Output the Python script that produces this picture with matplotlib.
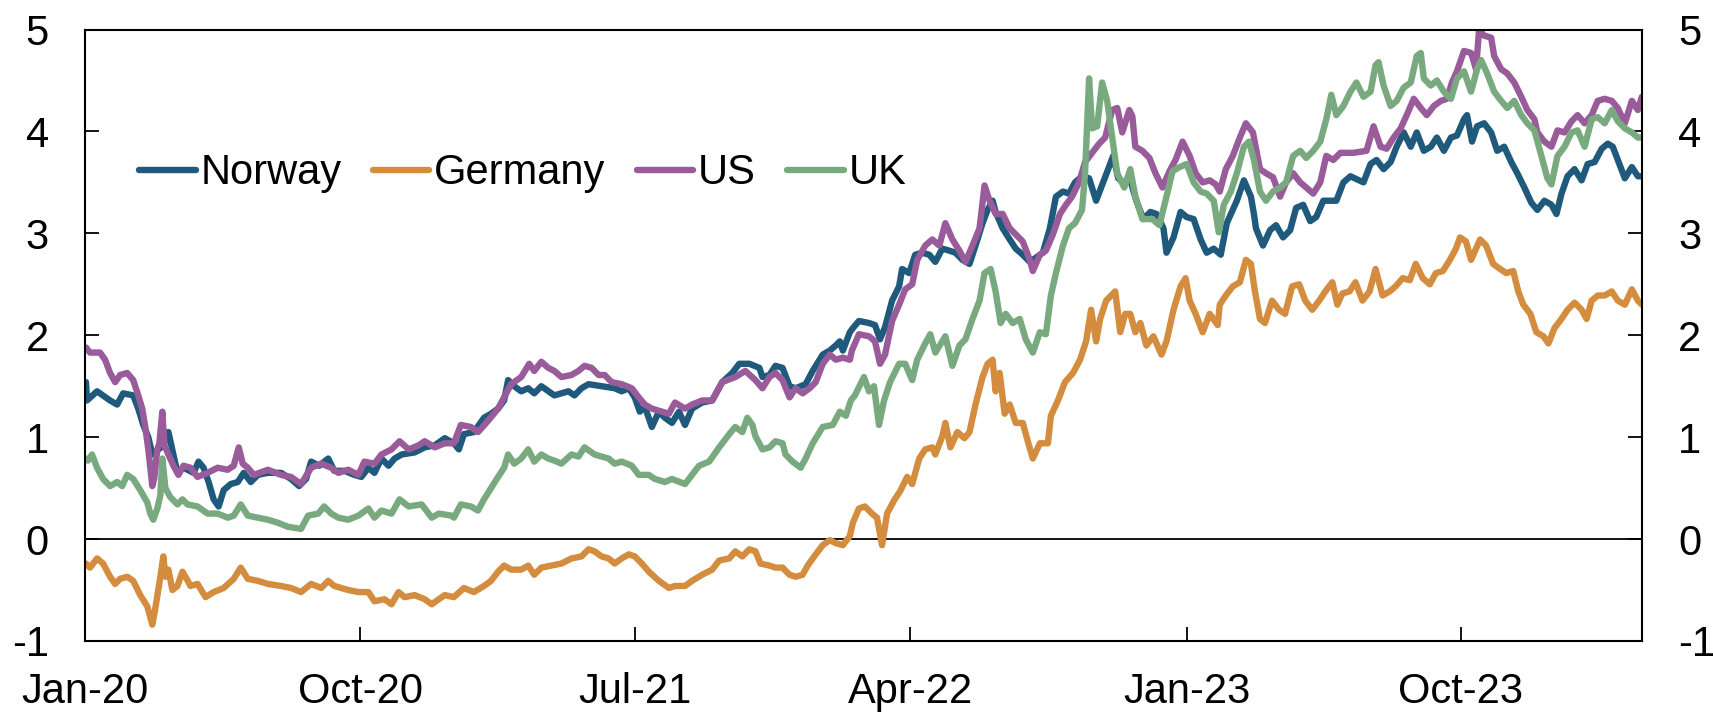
import pandas as pd
import matplotlib
matplotlib.use("Agg")
import matplotlib.pyplot as plt
import matplotlib.dates as mdates

plt.rcParams["font.family"] = ["Liberation Sans", "DejaVu Sans"]
plt.rcParams["axes.unicode_minus"] = False

# ---- Data ----
norway_dates = [
    "2020-01-02", "2020-01-03", "2020-01-13", "2020-01-26", "2020-02-02", "2020-02-08", "2020-02-18",
    "2020-02-23", "2020-02-28", "2020-03-04", "2020-03-08", "2020-03-13", "2020-03-19", "2020-03-24",
    "2020-03-28", "2020-04-02", "2020-04-08", "2020-04-18", "2020-04-23", "2020-04-28", "2020-05-03",
    "2020-05-08", "2020-05-13", "2020-05-18", "2020-05-25", "2020-06-01", "2020-06-07", "2020-06-14",
    "2020-06-21", "2020-07-01", "2020-07-14", "2020-07-24", "2020-08-01", "2020-08-08", "2020-08-13",
    "2020-08-21", "2020-08-30", "2020-09-05", "2020-09-15", "2020-09-25", "2020-10-02", "2020-10-09",
    "2020-10-15", "2020-10-22", "2020-10-29", "2020-11-04", "2020-11-11", "2020-11-24", "2020-12-04",
    "2020-12-14", "2020-12-24",
    "2021-01-02", "2021-01-07", "2021-01-12", "2021-01-22", "2021-02-01", "2021-02-08", "2021-02-15",
    "2021-02-21", "2021-02-25", "2021-03-03", "2021-03-10", "2021-03-17", "2021-03-23", "2021-03-30",
    "2021-04-12", "2021-04-26", "2021-05-02", "2021-05-09", "2021-05-16", "2021-05-29", "2021-06-11",
    "2021-06-18", "2021-06-25", "2021-07-01", "2021-07-06", "2021-07-11", "2021-07-18", "2021-07-25",
    "2021-07-31", "2021-08-07", "2021-08-14", "2021-08-20", "2021-08-27", "2021-09-06", "2021-09-16",
    "2021-09-26", "2021-10-06", "2021-10-13", "2021-10-23", "2021-11-02", "2021-11-05", "2021-11-12",
    "2021-11-18", "2021-11-25", "2021-12-02", "2021-12-08", "2021-12-18", "2021-12-25",
    "2022-01-04", "2022-01-11", "2022-01-17", "2022-01-21", "2022-01-24", "2022-01-31", "2022-02-03",
    "2022-02-09", "2022-02-19", "2022-02-25", "2022-03-02", "2022-03-07", "2022-03-14", "2022-03-21",
    "2022-03-24", "2022-03-31", "2022-04-06", "2022-04-13", "2022-04-20", "2022-04-26", "2022-05-03",
    "2022-05-10", "2022-05-16", "2022-05-23", "2022-05-30", "2022-06-05", "2022-06-12", "2022-06-17",
    "2022-06-22", "2022-06-25", "2022-07-02", "2022-07-09", "2022-07-15", "2022-07-22", "2022-07-29",
    "2022-08-04", "2022-08-11", "2022-08-18", "2022-08-24", "2022-08-31", "2022-09-06", "2022-09-12",
    "2022-09-19", "2022-09-26", "2022-10-03", "2022-10-10", "2022-10-17", "2022-10-20", "2022-10-25",
    "2022-10-30", "2022-11-06", "2022-11-12", "2022-11-19", "2022-11-26", "2022-12-02", "2022-12-09",
    "2022-12-12", "2022-12-19", "2022-12-26",
    "2023-01-01", "2023-01-08", "2023-01-15", "2023-01-21", "2023-01-28", "2023-02-04", "2023-02-10",
    "2023-02-20", "2023-02-27", "2023-03-06", "2023-03-09", "2023-03-11", "2023-03-18", "2023-03-25",
    "2023-03-31", "2023-04-07", "2023-04-14", "2023-04-20", "2023-04-27", "2023-05-04", "2023-05-10",
    "2023-05-17", "2023-05-30", "2023-06-06", "2023-06-13", "2023-06-26", "2023-07-03", "2023-07-09",
    "2023-07-16", "2023-07-23", "2023-07-29", "2023-08-05", "2023-08-12", "2023-08-18", "2023-08-25",
    "2023-09-01", "2023-09-07", "2023-09-14", "2023-09-21", "2023-09-27", "2023-10-04", "2023-10-07",
    "2023-10-12", "2023-10-17", "2023-10-24", "2023-10-31", "2023-11-06", "2023-11-13", "2023-11-20",
    "2023-11-26", "2023-12-03", "2023-12-10", "2023-12-16", "2023-12-23", "2023-12-30",
    "2024-01-04", "2024-01-09", "2024-01-15", "2024-01-22", "2024-01-29", "2024-02-04", "2024-02-11",
    "2024-02-18", "2024-02-24", "2024-02-29", "2024-03-05", "2024-03-12", "2024-03-19", "2024-03-25",
    "2024-03-29",
]
norway = [
    1.54, 1.36, 1.45, 1.36, 1.32, 1.43, 1.41,
    1.28, 1.12, 1.00, 0.83, 0.87, 0.92, 1.05,
    0.87, 0.65, 0.70, 0.65, 0.76, 0.70, 0.56,
    0.39, 0.32, 0.48, 0.54, 0.56, 0.65, 0.56,
    0.63, 0.65, 0.65, 0.59, 0.52, 0.59, 0.76,
    0.72, 0.79, 0.67, 0.67, 0.63, 0.61, 0.70,
    0.65, 0.79, 0.72, 0.79, 0.83, 0.85, 0.90,
    0.92, 0.99,
    0.94, 0.88, 1.03, 1.05, 1.19, 1.23, 1.28,
    1.36, 1.56, 1.50, 1.45, 1.48, 1.43, 1.50,
    1.41, 1.45, 1.41, 1.48, 1.52, 1.50, 1.48,
    1.45, 1.48, 1.39, 1.25, 1.30, 1.10, 1.25,
    1.19, 1.14, 1.25, 1.12, 1.28, 1.34, 1.36,
    1.54, 1.63, 1.72, 1.72, 1.68, 1.59, 1.61,
    1.70, 1.68, 1.50, 1.48, 1.52, 1.65,
    1.81, 1.85, 1.90, 1.94, 1.85, 2.03, 2.07,
    2.14, 2.12, 2.10, 1.96, 2.08, 2.34, 2.48,
    2.65, 2.61, 2.79, 2.81, 2.79, 2.72, 2.85,
    2.83, 2.81, 2.74, 2.70, 2.88, 3.10, 3.23,
    3.32, 3.21, 3.05, 2.94, 2.85, 2.79, 2.72,
    2.76, 2.81, 3.05, 3.36, 3.41, 3.39, 3.50,
    3.56, 3.54, 3.32, 3.50, 3.68, 3.76, 3.54,
    3.50, 3.52, 3.32, 3.14, 3.21, 3.19, 3.05,
    2.81, 2.96, 3.21,
    3.16, 3.14, 2.94, 2.81, 2.85, 2.79, 3.10,
    3.32, 3.52, 3.36, 3.19, 3.05, 2.88, 3.03,
    3.08, 2.96, 3.03, 3.25, 3.28, 3.12, 3.16,
    3.32, 3.32, 3.50, 3.56, 3.50, 3.68, 3.72,
    3.63, 3.70, 3.85, 3.99, 3.85, 3.99, 3.81,
    3.85, 3.94, 3.81, 3.94, 3.96, 4.12, 4.16,
    3.90, 4.05, 4.08, 3.99, 3.81, 3.85, 3.70,
    3.59, 3.45, 3.30, 3.23, 3.32, 3.28,
    3.19, 3.39, 3.56, 3.63, 3.52, 3.68, 3.70,
    3.83, 3.88, 3.85, 3.72, 3.54, 3.65, 3.56,
    3.56,
]

germany_dates = [
    "2020-01-02", "2020-01-06", "2020-01-13", "2020-01-19", "2020-01-26", "2020-01-31", "2020-02-05",
    "2020-02-12", "2020-02-18", "2020-02-25", "2020-03-03", "2020-03-08", "2020-03-11", "2020-03-16",
    "2020-03-19", "2020-03-21", "2020-03-24", "2020-03-28", "2020-04-02", "2020-04-07", "2020-04-10",
    "2020-04-15", "2020-04-22", "2020-04-30", "2020-05-08", "2020-05-18", "2020-05-28", "2020-06-04",
    "2020-06-11", "2020-06-21", "2020-07-01", "2020-07-14", "2020-07-24", "2020-08-03", "2020-08-13",
    "2020-08-23", "2020-08-30", "2020-09-05", "2020-09-19", "2020-09-29", "2020-10-09", "2020-10-15",
    "2020-10-25", "2020-11-01", "2020-11-08", "2020-11-14", "2020-11-24", "2020-12-04", "2020-12-11",
    "2020-12-18", "2020-12-24",
    "2021-01-02", "2021-01-12", "2021-01-22", "2021-02-01", "2021-02-08", "2021-02-15", "2021-02-21",
    "2021-02-28", "2021-03-10", "2021-03-17", "2021-03-23", "2021-03-30", "2021-04-09", "2021-04-19",
    "2021-04-29", "2021-05-09", "2021-05-16", "2021-05-22", "2021-05-29", "2021-06-05", "2021-06-11",
    "2021-06-18", "2021-06-25", "2021-07-01", "2021-07-08", "2021-07-15", "2021-07-25", "2021-08-04",
    "2021-08-10", "2021-08-20", "2021-08-27", "2021-09-06", "2021-09-16", "2021-09-23", "2021-10-03",
    "2021-10-09", "2021-10-16", "2021-10-23", "2021-10-29", "2021-11-03", "2021-11-12", "2021-11-18",
    "2021-11-25", "2021-12-02", "2021-12-08", "2021-12-15", "2021-12-20", "2021-12-28",
    "2022-01-04", "2022-01-11", "2022-01-17", "2022-01-24", "2022-01-31", "2022-02-03", "2022-02-09",
    "2022-02-15", "2022-02-22", "2022-02-27", "2022-03-04", "2022-03-09", "2022-03-16", "2022-03-22",
    "2022-03-29", "2022-04-03", "2022-04-10", "2022-04-16", "2022-04-23", "2022-04-26", "2022-05-03",
    "2022-05-06", "2022-05-11", "2022-05-18", "2022-05-25", "2022-05-30", "2022-06-05", "2022-06-12",
    "2022-06-17", "2022-06-22", "2022-06-25", "2022-06-29", "2022-07-04", "2022-07-09", "2022-07-15",
    "2022-07-22", "2022-07-27", "2022-08-01", "2022-08-08", "2022-08-16", "2022-08-19", "2022-08-26",
    "2022-09-02", "2022-09-10", "2022-09-17", "2022-09-23", "2022-09-28", "2022-10-03", "2022-10-07",
    "2022-10-13", "2022-10-22", "2022-10-27", "2022-11-01", "2022-11-06", "2022-11-11", "2022-11-16",
    "2022-11-22", "2022-11-29", "2022-12-07", "2022-12-12", "2022-12-19", "2022-12-26", "2022-12-31",
    "2023-01-04", "2023-01-10", "2023-01-17", "2023-01-24", "2023-02-01", "2023-02-03", "2023-02-09",
    "2023-02-16", "2023-02-23", "2023-03-01", "2023-03-06", "2023-03-10", "2023-03-15", "2023-03-20",
    "2023-03-27", "2023-04-03", "2023-04-09", "2023-04-16", "2023-04-23", "2023-04-29", "2023-05-06",
    "2023-05-13", "2023-05-19", "2023-05-26", "2023-05-31", "2023-06-05", "2023-06-12", "2023-06-18",
    "2023-06-25", "2023-07-02", "2023-07-08", "2023-07-15", "2023-07-22", "2023-07-28", "2023-08-04",
    "2023-08-11", "2023-08-17", "2023-08-24", "2023-08-31", "2023-09-06", "2023-09-13", "2023-09-20",
    "2023-09-26", "2023-09-30", "2023-10-06", "2023-10-11", "2023-10-16", "2023-10-20", "2023-10-26",
    "2023-11-02", "2023-11-09", "2023-11-15", "2023-11-22", "2023-11-27", "2023-12-02", "2023-12-09",
    "2023-12-15", "2023-12-22", "2023-12-27",
    "2024-01-02", "2024-01-09", "2024-01-15", "2024-01-22", "2024-01-29", "2024-02-03", "2024-02-08",
    "2024-02-14", "2024-02-21", "2024-02-28", "2024-03-05", "2024-03-12", "2024-03-19", "2024-03-25",
    "2024-03-29",
]
germany = [
    -0.24, -0.28, -0.19, -0.24, -0.37, -0.44, -0.39,
    -0.37, -0.41, -0.55, -0.66, -0.84, -0.68, -0.37,
    -0.17, -0.37, -0.30, -0.50, -0.46, -0.32, -0.37,
    -0.46, -0.44, -0.57, -0.52, -0.48, -0.39, -0.28,
    -0.39, -0.41, -0.44, -0.46, -0.48, -0.52, -0.44,
    -0.48, -0.41, -0.46, -0.50, -0.52, -0.52, -0.61,
    -0.59, -0.64, -0.52, -0.57, -0.55, -0.59, -0.64,
    -0.59, -0.55,
    -0.57, -0.48, -0.52, -0.46, -0.41, -0.32, -0.26,
    -0.30, -0.30, -0.26, -0.35, -0.28, -0.26, -0.24,
    -0.19, -0.17, -0.10, -0.12, -0.17, -0.19, -0.24,
    -0.19, -0.15, -0.17, -0.24, -0.32, -0.41, -0.48,
    -0.46, -0.46, -0.41, -0.35, -0.30, -0.21, -0.19,
    -0.12, -0.17, -0.10, -0.12, -0.24, -0.26, -0.28,
    -0.28, -0.35, -0.37, -0.35, -0.26, -0.15,
    -0.06, -0.01, -0.04, -0.06, 0.03, 0.16, 0.30,
    0.32, 0.25, 0.21, -0.06, 0.25, 0.38, 0.47,
    0.61, 0.54, 0.79, 0.88, 0.90, 0.83, 1.01,
    1.14, 0.90, 1.05, 0.99, 1.05, 1.32, 1.59,
    1.72, 1.76, 1.45, 1.63, 1.23, 1.32, 1.14,
    1.14, 0.96, 0.79, 0.94, 0.94, 1.21, 1.36,
    1.54, 1.63, 1.76, 1.94, 2.25, 1.94, 2.16,
    2.34, 2.43, 2.03, 2.21, 2.21, 2.03, 2.12,
    1.90, 1.99, 1.81, 1.94, 2.25, 2.48, 2.56,
    2.34, 2.21, 2.03, 2.21, 2.10, 2.30, 2.39,
    2.48, 2.52, 2.74, 2.70, 2.43, 2.16, 2.12,
    2.34, 2.25, 2.21, 2.48, 2.50, 2.34, 2.25,
    2.34, 2.43, 2.52, 2.30, 2.41, 2.43, 2.52,
    2.34, 2.43, 2.65, 2.39, 2.43, 2.48, 2.56,
    2.54, 2.70, 2.56, 2.50, 2.61, 2.63, 2.74,
    2.85, 2.96, 2.92, 2.74, 2.85, 2.94, 2.88,
    2.70, 2.65, 2.61, 2.63, 2.43, 2.30, 2.21,
    2.03, 1.99, 1.92,
    2.07, 2.16, 2.25, 2.32, 2.25, 2.16, 2.34,
    2.39, 2.39, 2.43, 2.34, 2.30, 2.45, 2.34,
    2.30,
]

us_dates = [
    "2020-01-02", "2020-01-06", "2020-01-16", "2020-01-21", "2020-01-26", "2020-01-31", "2020-02-05",
    "2020-02-12", "2020-02-18", "2020-02-23", "2020-02-27", "2020-03-01", "2020-03-04", "2020-03-08",
    "2020-03-10", "2020-03-13", "2020-03-15", "2020-03-18", "2020-03-20", "2020-03-24", "2020-03-29",
    "2020-04-03", "2020-04-08", "2020-04-15", "2020-04-22", "2020-05-02", "2020-05-12", "2020-05-22",
    "2020-05-28", "2020-06-02", "2020-06-06", "2020-06-11", "2020-06-17", "2020-07-01", "2020-07-14",
    "2020-07-24", "2020-08-03", "2020-08-13", "2020-08-23", "2020-09-02", "2020-09-09", "2020-09-19",
    "2020-09-29", "2020-10-05", "2020-10-15", "2020-10-22", "2020-11-01", "2020-11-09", "2020-11-18",
    "2020-11-28", "2020-12-04", "2020-12-14", "2020-12-24",
    "2021-01-02", "2021-01-09", "2021-01-19", "2021-01-26", "2021-02-05", "2021-02-15", "2021-02-21",
    "2021-02-28", "2021-03-10", "2021-03-18", "2021-03-23", "2021-03-30", "2021-04-06", "2021-04-12",
    "2021-04-19", "2021-04-29", "2021-05-06", "2021-05-12", "2021-05-19", "2021-05-26", "2021-06-01",
    "2021-06-08", "2021-06-18", "2021-06-28", "2021-07-05", "2021-07-11", "2021-07-18", "2021-07-28",
    "2021-08-04", "2021-08-10", "2021-08-20", "2021-08-27", "2021-09-06", "2021-09-16", "2021-09-26",
    "2021-10-09", "2021-10-19", "2021-10-29", "2021-11-05", "2021-11-12", "2021-11-18", "2021-11-25",
    "2021-12-02", "2021-12-08", "2021-12-15", "2021-12-22", "2021-12-28",
    "2022-01-04", "2022-01-11", "2022-01-17", "2022-01-24", "2022-01-31", "2022-02-02", "2022-02-09",
    "2022-02-19", "2022-02-25", "2022-03-02", "2022-03-07", "2022-03-14", "2022-03-21", "2022-03-27",
    "2022-04-03", "2022-04-08", "2022-04-16", "2022-04-23", "2022-04-30", "2022-05-06", "2022-05-13",
    "2022-05-20", "2022-05-26", "2022-06-02", "2022-06-09", "2022-06-14", "2022-06-19", "2022-06-25",
    "2022-07-02", "2022-07-09", "2022-07-15", "2022-07-22", "2022-07-29", "2022-08-01", "2022-08-08",
    "2022-08-14", "2022-08-21", "2022-08-28", "2022-09-03", "2022-09-09", "2022-09-16", "2022-09-22",
    "2022-09-29", "2022-10-06", "2022-10-12", "2022-10-19", "2022-10-24", "2022-10-29", "2022-11-05",
    "2022-11-08", "2022-11-11", "2022-11-18", "2022-11-25", "2022-12-01", "2022-12-08", "2022-12-15",
    "2022-12-21", "2022-12-28",
    "2023-01-04", "2023-01-10", "2023-01-17", "2023-01-24", "2023-01-30", "2023-02-03", "2023-02-09",
    "2023-02-16", "2023-02-23", "2023-03-01", "2023-03-08", "2023-03-15", "2023-03-21", "2023-03-28",
    "2023-04-04", "2023-04-10", "2023-04-17", "2023-04-24", "2023-04-30", "2023-05-07", "2023-05-14",
    "2023-05-20", "2023-05-27", "2023-06-03", "2023-06-16", "2023-06-29", "2023-07-06", "2023-07-13",
    "2023-07-19", "2023-07-26", "2023-08-02", "2023-08-08", "2023-08-15", "2023-08-22", "2023-08-28",
    "2023-09-04", "2023-09-11", "2023-09-17", "2023-09-22", "2023-09-27", "2023-10-04", "2023-10-11",
    "2023-10-16", "2023-10-19", "2023-10-24", "2023-10-31", "2023-11-03", "2023-11-10", "2023-11-16",
    "2023-11-23", "2023-11-30", "2023-12-06", "2023-12-13", "2023-12-16", "2023-12-23", "2023-12-30",
    "2024-01-05", "2024-01-12", "2024-01-19", "2024-01-25", "2024-02-01", "2024-02-08", "2024-02-14",
    "2024-02-21", "2024-02-28", "2024-03-05", "2024-03-12", "2024-03-19", "2024-03-25", "2024-03-29",
]
us = [
    1.88, 1.83, 1.83, 1.76, 1.63, 1.54, 1.61,
    1.63, 1.56, 1.41, 1.28, 1.10, 0.88, 0.52,
    0.60, 0.88, 0.94, 1.25, 0.92, 0.83, 0.72,
    0.63, 0.72, 0.70, 0.61, 0.65, 0.70, 0.68,
    0.72, 0.90, 0.74, 0.70, 0.63, 0.68, 0.63,
    0.61, 0.54, 0.70, 0.74, 0.70, 0.65, 0.68,
    0.63, 0.76, 0.74, 0.83, 0.88, 0.96, 0.88,
    0.92, 0.96, 0.90, 0.94,
    0.94, 1.12, 1.10, 1.05, 1.16, 1.28, 1.39,
    1.52, 1.59, 1.72, 1.65, 1.74, 1.68, 1.65,
    1.59, 1.61, 1.65, 1.70, 1.68, 1.61, 1.61,
    1.54, 1.52, 1.48, 1.39, 1.32, 1.28, 1.25,
    1.23, 1.34, 1.28, 1.32, 1.36, 1.36, 1.54,
    1.59, 1.65, 1.56, 1.48, 1.59, 1.63, 1.56,
    1.39, 1.48, 1.43, 1.48, 1.54,
    1.72, 1.81, 1.76, 1.78, 1.76, 1.85, 2.01,
    1.99, 1.94, 1.72, 1.81, 2.14, 2.30, 2.45,
    2.50, 2.74, 2.88, 2.94, 2.88, 3.10, 2.94,
    2.83, 2.72, 2.88, 3.05, 3.47, 3.32, 3.19,
    3.19, 3.05, 2.99, 2.92, 2.74, 2.63, 2.79,
    2.83, 2.99, 3.19, 3.28, 3.36, 3.50, 3.70,
    3.79, 3.88, 3.94, 4.21, 4.23, 3.99, 4.21,
    4.15, 3.85, 3.81, 3.74, 3.59, 3.45, 3.61,
    3.72, 3.90,
    3.76, 3.59, 3.50, 3.52, 3.48, 3.41, 3.63,
    3.76, 3.94, 4.08, 3.99, 3.63, 3.59, 3.55,
    3.36, 3.50, 3.59, 3.50, 3.45, 3.39, 3.50,
    3.76, 3.72, 3.79, 3.79, 3.81, 4.05, 3.85,
    3.83, 3.94, 4.03, 4.16, 4.32, 4.23, 4.16,
    4.25, 4.30, 4.32, 4.48, 4.59, 4.79, 4.77,
    4.61, 5.00, 4.94, 4.92, 4.74, 4.61, 4.57,
    4.48, 4.34, 4.21, 4.12, 3.99, 3.90, 3.85,
    4.01, 3.99, 4.10, 4.16, 4.08, 4.16, 4.30,
    4.32, 4.30, 4.23, 4.08, 4.30, 4.21, 4.34,
]

uk_dates = [
    "2020-01-02", "2020-01-04", "2020-01-08", "2020-01-13", "2020-01-19", "2020-01-26", "2020-02-02",
    "2020-02-07", "2020-02-12", "2020-02-18", "2020-02-25", "2020-03-03", "2020-03-06", "2020-03-09",
    "2020-03-13", "2020-03-16", "2020-03-18", "2020-03-21", "2020-03-26", "2020-04-02", "2020-04-07",
    "2020-04-12", "2020-04-22", "2020-05-02", "2020-05-12", "2020-05-22", "2020-05-28", "2020-06-04",
    "2020-06-11", "2020-06-21", "2020-07-01", "2020-07-11", "2020-07-21", "2020-08-03", "2020-08-10",
    "2020-08-20", "2020-08-26", "2020-09-02", "2020-09-09", "2020-09-19", "2020-09-29", "2020-10-09",
    "2020-10-15", "2020-10-22", "2020-11-01", "2020-11-09", "2020-11-18", "2020-12-01", "2020-12-11",
    "2020-12-18", "2020-12-31",
    "2021-01-02", "2021-01-09", "2021-01-19", "2021-01-26", "2021-02-01", "2021-02-08", "2021-02-15",
    "2021-02-21", "2021-02-25", "2021-03-03", "2021-03-10", "2021-03-17", "2021-03-23", "2021-03-30",
    "2021-04-06", "2021-04-12", "2021-04-19", "2021-04-29", "2021-05-06", "2021-05-12", "2021-05-22",
    "2021-05-29", "2021-06-05", "2021-06-11", "2021-06-18", "2021-06-28", "2021-07-05", "2021-07-15",
    "2021-07-21", "2021-07-31", "2021-08-07", "2021-08-20", "2021-08-27", "2021-09-03", "2021-09-13",
    "2021-09-23", "2021-10-03", "2021-10-09", "2021-10-16", "2021-10-21", "2021-10-26", "2021-10-29",
    "2021-11-05", "2021-11-12", "2021-11-18", "2021-11-25", "2021-11-28", "2021-12-05", "2021-12-13",
    "2021-12-18", "2021-12-25",
    "2022-01-04", "2022-01-14", "2022-01-21", "2022-01-27", "2022-02-01", "2022-02-05", "2022-02-14",
    "2022-02-19", "2022-02-24", "2022-03-01", "2022-03-06", "2022-03-12", "2022-03-21", "2022-03-27",
    "2022-04-03", "2022-04-08", "2022-04-16", "2022-04-21", "2022-04-26", "2022-05-06", "2022-05-13",
    "2022-05-20", "2022-05-26", "2022-06-02", "2022-06-09", "2022-06-14", "2022-06-20", "2022-06-25",
    "2022-06-30", "2022-07-05", "2022-07-12", "2022-07-19", "2022-07-25", "2022-08-01", "2022-08-08",
    "2022-08-14", "2022-08-19", "2022-08-24", "2022-08-31", "2022-09-06", "2022-09-12", "2022-09-19",
    "2022-09-22", "2022-09-26", "2022-09-29", "2022-10-04", "2022-10-09", "2022-10-14", "2022-10-19",
    "2022-10-24", "2022-10-31", "2022-11-06", "2022-11-11", "2022-11-18", "2022-11-28", "2022-12-05",
    "2022-12-11", "2022-12-18", "2022-12-25",
    "2023-01-01", "2023-01-08", "2023-01-15", "2023-01-21", "2023-01-28", "2023-02-02", "2023-02-07",
    "2023-02-14", "2023-02-20", "2023-02-27", "2023-03-04", "2023-03-09", "2023-03-15", "2023-03-21",
    "2023-03-28", "2023-04-04", "2023-04-10", "2023-04-17", "2023-04-24", "2023-04-30", "2023-05-07",
    "2023-05-14", "2023-05-20", "2023-05-25", "2023-05-30", "2023-06-06", "2023-06-13", "2023-06-19",
    "2023-06-26", "2023-07-03", "2023-07-08", "2023-07-11", "2023-07-16", "2023-07-23", "2023-07-29",
    "2023-08-05", "2023-08-12", "2023-08-18", "2023-08-22", "2023-08-25", "2023-09-01", "2023-09-07",
    "2023-09-14", "2023-09-21", "2023-09-27", "2023-10-04", "2023-10-11", "2023-10-17", "2023-10-21",
    "2023-10-27", "2023-11-03", "2023-11-10", "2023-11-16", "2023-11-23", "2023-11-30", "2023-12-06",
    "2023-12-13", "2023-12-20", "2023-12-26", "2023-12-30",
    "2024-01-05", "2024-01-12", "2024-01-19", "2024-01-25", "2024-02-01", "2024-02-08", "2024-02-14",
    "2024-02-21", "2024-02-28", "2024-03-05", "2024-03-12", "2024-03-19", "2024-03-25", "2024-03-29",
]
uk = [
    0.79, 0.77, 0.83, 0.70, 0.59, 0.52, 0.56,
    0.52, 0.63, 0.59, 0.48, 0.36, 0.25, 0.19,
    0.30, 0.43, 0.79, 0.50, 0.41, 0.34, 0.39,
    0.34, 0.32, 0.25, 0.25, 0.21, 0.23, 0.34,
    0.23, 0.21, 0.19, 0.16, 0.12, 0.10, 0.23,
    0.25, 0.32, 0.25, 0.21, 0.19, 0.23, 0.30,
    0.21, 0.28, 0.25, 0.39, 0.32, 0.34, 0.21,
    0.25, 0.23,
    0.21, 0.34, 0.32, 0.28, 0.39, 0.50, 0.61,
    0.70, 0.83, 0.74, 0.79, 0.88, 0.76, 0.83,
    0.79, 0.77, 0.74, 0.83, 0.81, 0.90, 0.83,
    0.81, 0.79, 0.74, 0.76, 0.72, 0.63, 0.63,
    0.59, 0.56, 0.59, 0.54, 0.63, 0.72, 0.76,
    0.90, 1.03, 1.10, 1.05, 1.19, 1.12, 1.01,
    0.88, 0.90, 0.96, 0.94, 0.83, 0.76, 0.70,
    0.79, 0.94,
    1.10, 1.12, 1.25, 1.21, 1.36, 1.41, 1.59,
    1.45, 1.50, 1.12, 1.36, 1.54, 1.72, 1.72,
    1.56, 1.76, 1.92, 2.01, 1.83, 1.99, 1.70,
    1.90, 1.96, 2.16, 2.34, 2.61, 2.65, 2.43,
    2.12, 2.21, 2.12, 2.16, 1.96, 1.83, 2.03,
    2.01, 2.39, 2.61, 2.88, 3.05, 3.10, 3.23,
    3.59, 4.52, 4.03, 4.05, 4.48, 4.30, 3.94,
    3.59, 3.45, 3.63, 3.36, 3.14, 3.14, 3.08,
    3.32, 3.61, 3.65,
    3.68, 3.50, 3.41, 3.39, 3.32, 3.01, 3.28,
    3.41, 3.59, 3.85, 3.90, 3.72, 3.41, 3.32,
    3.41, 3.45, 3.50, 3.76, 3.81, 3.74, 3.81,
    3.90, 4.12, 4.36, 4.16, 4.25, 4.39, 4.48,
    4.34, 4.39, 4.65, 4.68, 4.45, 4.25, 4.30,
    4.43, 4.48, 4.74, 4.77, 4.52, 4.45, 4.50,
    4.39, 4.32, 4.52, 4.59, 4.39, 4.61, 4.70,
    4.57, 4.39, 4.30, 4.23, 4.30, 4.16, 4.08,
    4.01, 3.76, 3.54, 3.48,
    3.76, 3.85, 3.99, 4.01, 3.85, 4.12, 4.14,
    4.08, 4.21, 4.10, 4.03, 3.99, 3.94, 3.94,
]

series = [
    ("Norway", norway_dates, norway, "#1F5A7D"),
    ("Germany", germany_dates, germany, "#D48C3E"),
    ("US", us_dates, us, "#995B9A"),
    ("UK", uk_dates, uk, "#79A97E"),
]

tick_dates = ["2020-01-01", "2020-10-01", "2021-07-01", "2022-04-01", "2023-01-01", "2023-10-01"]
y_ticks = [-1, 0, 1, 2, 3, 4, 5]

# ---- Chart ----
fig = plt.figure(figsize=(17.13, 7.13), dpi=100)
ax = fig.add_axes([0.0496, 0.101, 0.9089, 0.8576])

for name, dates, values, color in series:
    ax.plot(pd.to_datetime(dates), values, color=color, linewidth=4.6,
            solid_joinstyle="round", solid_capstyle="round", label=name)

ax.axhline(0, color="black", linewidth=1.3, zorder=1)

ax.set_xlim(pd.Timestamp("2020-01-01"), pd.Timestamp("2024-03-29"))
ax.set_ylim(-1, 5)
ax.set_yticks(y_ticks)
ax.set_xticks(pd.to_datetime(tick_dates))
ax.xaxis.set_major_formatter(mdates.DateFormatter("%b-%y"))

for side in ["top", "bottom", "left", "right"]:
    ax.spines[side].set_linewidth(1.5)
    ax.spines[side].set_color("black")

ax.tick_params(axis="both", direction="in", length=10, width=1.3, labelsize=30, colors="black")
ax.tick_params(axis="y", pad=26, left=True, right=True, labelleft=True, labelright=True)
ax.tick_params(axis="x", pad=22, top=False)

ax.legend(loc="center left", bbox_to_anchor=(0.035, 0.765), ncol=4, frameon=False,
          fontsize=30, handlelength=1.35, handletextpad=0.12, columnspacing=0.75,
          borderpad=0, borderaxespad=0)

fig.savefig("out.png", dpi=100)
